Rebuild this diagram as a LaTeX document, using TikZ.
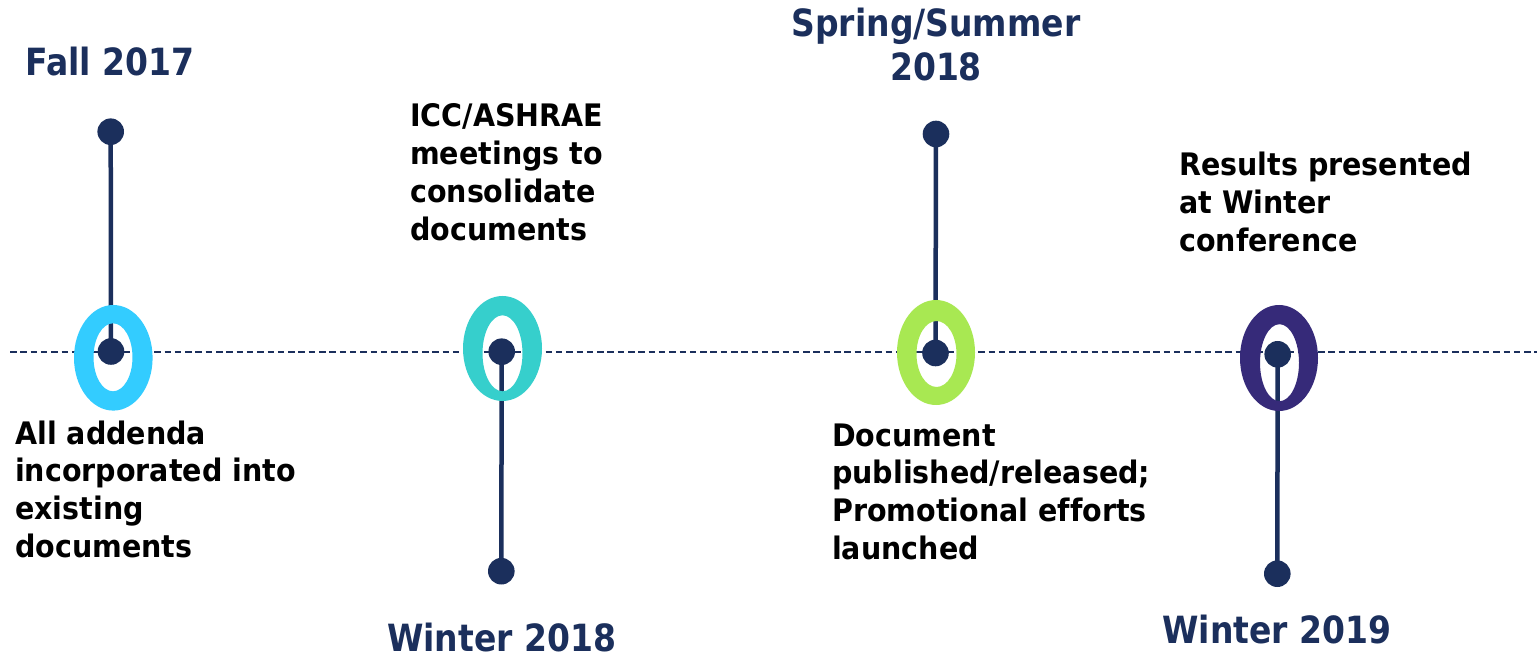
\documentclass[tikz,border=0pt]{standalone}
\usepackage{fontspec}
\newfontfamily\titlefont{DejaVu Sans}[FakeStretch=0.88, Ligatures=NoCommon]
\newfontfamily\bodyfont{DejaVu Sans}[FakeStretch=0.92, Ligatures=NoCommon]
\definecolor{navy}{HTML}{1B2F5C}
\definecolor{ringcyan}{HTML}{33CCFF}
\definecolor{ringteal}{HTML}{36CFCC}
\definecolor{ringgreen}{HTML}{A8E852}
\definecolor{ringpurple}{HTML}{362A79}
\pgfdeclarelayer{bg}
\pgfsetlayers{bg,main}
\tikzset{
  dot/.style={circle, fill=navy, inner sep=0pt, minimum size=26.6pt},
  stem/.style={draw=navy, line width=4.5pt},
  axis/.style={draw=navy, line width=2pt, dash pattern=on 6.5pt off 3.8pt},
  titletext/.style={text=navy, inner sep=0pt, anchor=base,
    font=\titlefont\bfseries\fontsize{37.5}{44.3}\selectfont},
  bodytext/.style={text=black, inner sep=0pt, anchor=base west,
    font=\bodyfont\bfseries\fontsize{31}{37.7}\selectfont}
}
\begin{document}
\begin{tikzpicture}[x=1pt,y=-1pt]
\useasboundingbox (0,0) rectangle (1537,660);

% rings (outer ellipse minus inner ellipse)
\fill[ringcyan, even odd rule] (113.3,357.8) ellipse (39.3 and 52.8) (113,357.3) ellipse (19.5 and 34);
\fill[ringteal, even odd rule] (502.5,348.5) ellipse (39.5 and 52.5) (502.5,353.3) ellipse (20 and 38);
\fill[ringgreen, even odd rule] (936,352.5) ellipse (39 and 52.5) (936.5,354) ellipse (20 and 33);
\fill[ringpurple, even odd rule] (1279,358) ellipse (39 and 53) (1279.5,362.7) ellipse (19.5 and 38.5);

% dots
\node[dot] (d1top) at (110.7,131.7) {};
\node[dot] (d1) at (111,351.5) {};
\node[dot] (d2) at (501.7,351.7) {};
\node[dot] (d2bot) at (501.3,571.2) {};
\node[dot] (d3top) at (936,134) {};
\node[dot] (d3) at (935.5,353) {};
\node[dot] (d4) at (1277.7,354.3) {};
\node[dot] (d4bot) at (1277.3,573.7) {};

\coordinate (axL) at (10,352);
\coordinate (axR) at (1537,352);

\begin{pgfonlayer}{bg}
  \fill[white] (0,0) rectangle (1537,660);
  \draw[axis] (axL) -- (axR);
  \draw[stem] (d1top.center) -- (d1.center);
  \draw[stem] (d2.center) -- (d2bot.center);
  \draw[stem] (d3top.center) -- (d3.center);
  \draw[stem] (d4.center) -- (d4bot.center);
\end{pgfonlayer}

% titles
\node[titletext] (tfall) at (110,75.7) {Fall 2017};
\node[titletext] (tspring) at (936,36.7) {\begin{tabular}[t]{@{}c@{}}Spring/Summer\\2018\end{tabular}};
\node[titletext] (tw18) at (501.5,651.7) {Winter 2018};
\node[titletext] (tw19) at (1277,643) {Winter 2019};

% descriptions
\node[bodytext] (addenda) at (15,444) {\begin{tabular}[t]{@{}l@{}}All addenda\\incorporated into\\existing\\documents\end{tabular}};
\node[bodytext] (icc) at (410,127) {\begin{tabular}[t]{@{}l@{}}ICC/ASHRAE\\meetings to\\consolidate\\documents\end{tabular}};
\node[bodytext] (doc) at (832,446) {\begin{tabular}[t]{@{}l@{}}Document\\published/released;\\Promotional efforts\\launched\end{tabular}};
\node[bodytext] (results) at (1179,176) {\begin{tabular}[t]{@{}l@{}}Results presented\\at Winter\\conference\end{tabular}};
\end{tikzpicture}
\end{document}
